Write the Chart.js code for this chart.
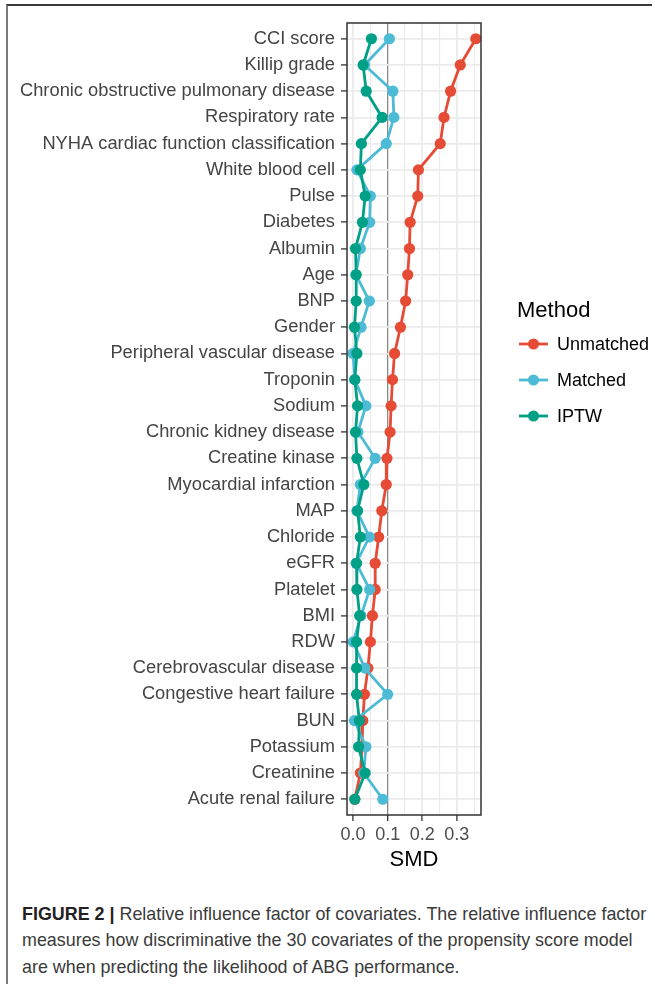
<!DOCTYPE html>
<html>
<head>
<meta charset="utf-8">
<script src="https://cdn.jsdelivr.net/npm/chart.js@4"></script>
<style>
  html, body { margin: 0; padding: 0; background: #fff; }
  body { width: 655px; height: 984px; position: relative; overflow: hidden; font-family: "Liberation Sans", Arial, sans-serif; }
  #frame { position: absolute; left: 6px; top: 4px; width: 644px; height: 990px; border-top: 2px solid #3a3a3a; border-left: 2px solid #7a7a7a; }
  #chart { position: absolute; left: 0; top: 0; }
  #caption { position: absolute; left: 22px; top: 901px; font-size: 17.9px; line-height: 26.3px; color: #3a3a3a; white-space: nowrap; }
  #caption b { color: #222; }
</style>
</head>
<body>
<div id="frame"></div>
<canvas id="chart" width="655" height="880"></canvas>
<div id="caption"><b>FIGURE 2 |</b> Relative influence factor of covariates. The relative influence factor<br>measures how discriminative the 30 covariates of the propensity score model<br>are when predicting the likelihood of ABG performance.</div>
<script>
// covariates, top to bottom
const categories = [
  'CCI score', 'Killip grade', 'Chronic obstructive pulmonary disease', 'Respiratory rate',
  'NYHA cardiac function classification', 'White blood cell', 'Pulse', 'Diabetes', 'Albumin',
  'Age', 'BNP', 'Gender', 'Peripheral vascular disease', 'Troponin', 'Sodium',
  'Chronic kidney disease', 'Creatine kinase', 'Myocardial infarction', 'MAP', 'Chloride',
  'eGFR', 'Platelet', 'BMI', 'RDW', 'Cerebrovascular disease', 'Congestive heart failure',
  'BUN', 'Potassium', 'Creatinine', 'Acute renal failure'
];

// SMD per method
const unmatched = [0.355, 0.310, 0.282, 0.263, 0.252, 0.189, 0.187, 0.165, 0.163, 0.158,
  0.152, 0.137, 0.120, 0.114, 0.110, 0.107, 0.098, 0.096, 0.083, 0.074,
  0.064, 0.064, 0.056, 0.050, 0.043, 0.033, 0.028, 0.026, 0.021, 0.005];
const matched = [0.105, 0.033, 0.115, 0.118, 0.096, 0.011, 0.050, 0.048, 0.021, 0.008,
  0.047, 0.023, 0.000, 0.005, 0.037, 0.014, 0.064, 0.021, 0.011, 0.047,
  0.009, 0.048, 0.023, 0.000, 0.034, 0.100, 0.004, 0.037, 0.031, 0.086];
const iptw = [0.053, 0.029, 0.038, 0.084, 0.024, 0.021, 0.035, 0.027, 0.007, 0.009,
  0.009, 0.004, 0.011, 0.005, 0.013, 0.007, 0.011, 0.031, 0.013, 0.021,
  0.010, 0.011, 0.019, 0.010, 0.010, 0.010, 0.018, 0.016, 0.035, 0.005];

const methods = ['Unmatched', 'Matched', 'IPTW'];
const colors = ['#E64B35', '#4DBBD5', '#00A087'];

// x axis
const xTicks = [0, 0.1, 0.2, 0.3];
const xMinor = [0.05, 0.15, 0.25, 0.35];
const refLine = 0.1;

const FONT = '"Liberation Sans", Arial, sans-serif';
Chart.defaults.font.family = FONT;

function toPoints(arr) {
  return arr.map((v, i) => ({ x: v, y: i }));
}

// panel border + legend
const extras = {
  id: 'extras',
  afterDatasetsDraw(chart) {
    const { ctx, chartArea: a } = chart;
    ctx.save();
    ctx.strokeStyle = '#333';
    ctx.lineWidth = 1.5;
    ctx.strokeRect(a.left, a.top, a.right - a.left, a.bottom - a.top);
    ctx.restore();
  },
  afterDraw(chart) {
    const ctx = chart.ctx;
    ctx.save();
    ctx.fillStyle = '#000';
    ctx.textBaseline = 'middle';
    ctx.font = '22px ' + FONT;
    ctx.fillText('Method', 517, 311);
    ctx.font = '18px ' + FONT;
    chart.data.datasets.forEach((ds, i) => {
      const y = 344 + i * 36;
      ctx.strokeStyle = ds.borderColor;
      ctx.lineWidth = 2.8;
      ctx.beginPath();
      ctx.moveTo(519, y);
      ctx.lineTo(548, y);
      ctx.stroke();
      ctx.fillStyle = ds.borderColor;
      ctx.beginPath();
      ctx.arc(533.5, y, 5.5, 0, Math.PI * 2);
      ctx.fill();
      ctx.fillStyle = '#000';
      ctx.fillText(ds.label, 557, y + 1);
    });
    ctx.restore();
  }
};

const series = [unmatched, matched, iptw];

new Chart(document.getElementById('chart'), {
  type: 'line',
  data: {
    datasets: series.map((arr, i) => ({
      label: methods[i],
      data: toPoints(arr),
      borderColor: colors[i],
      backgroundColor: colors[i],
      pointBackgroundColor: colors[i],
      pointBorderWidth: 0,
      pointRadius: 5.6,
      borderWidth: 2.8,
      tension: 0,
      order: 3 - i,
    })),
  },
  options: {
    responsive: false,
    animation: false,
    layout: { padding: { top: 23, right: 174, bottom: 3, left: 0 } },
    plugins: { legend: { display: false }, tooltip: { enabled: false } },
    scales: {
      x: {
        type: 'linear',
        min: -0.0176,
        max: 0.37,
        afterBuildTicks(scale) {
          scale.ticks = [...xTicks, ...xMinor].sort((a, b) => a - b).map((v) => ({ value: v }));
        },
        afterFit(scale) { scale.height = 62; },
        grid: {
          color: (c) => (c.tick && c.tick.value === refLine ? '#8a8a8a' : '#EBEBEB'),
          lineWidth: (c) => {
            if (!c.tick) return 1;
            if (c.tick.value === refLine) return 1.3;
            return xTicks.includes(c.tick.value) ? 1.8 : 1.1;
          },
          tickColor: (c) => (c.tick && xTicks.includes(c.tick.value) ? '#333' : 'rgba(0,0,0,0)'),
          tickLength: 6,
          tickWidth: 1.3,
        },
        border: { display: false },
        ticks: {
          autoSkip: false,
          maxRotation: 0,
          padding: 3,
          color: '#4D4D4D',
          font: { size: 18 },
          callback: (v) => (xTicks.includes(v) ? v.toFixed(1) : ''),
        },
        title: {
          display: true,
          text: 'SMD',
          color: '#000',
          font: { size: 22 },
          padding: { top: 0, bottom: 4 },
        },
      },
      y: {
        type: 'linear',
        reverse: true,
        min: -0.6,
        max: categories.length - 1 + 0.6,
        afterBuildTicks(scale) {
          scale.ticks = categories.map((_, i) => ({ value: i }));
        },
        afterFit(scale) { scale.width = 347; },
        grid: {
          color: '#EBEBEB',
          lineWidth: 1.8,
          tickColor: '#333',
          tickLength: 6,
          tickWidth: 1.3,
        },
        border: { display: false },
        ticks: {
          autoSkip: false,
          padding: 6,
          color: '#444',
          font: { size: 18.3 },
          callback: (v) => categories[v],
        },
      },
    },
  },
  plugins: [extras],
});
</script>
</body>
</html>
